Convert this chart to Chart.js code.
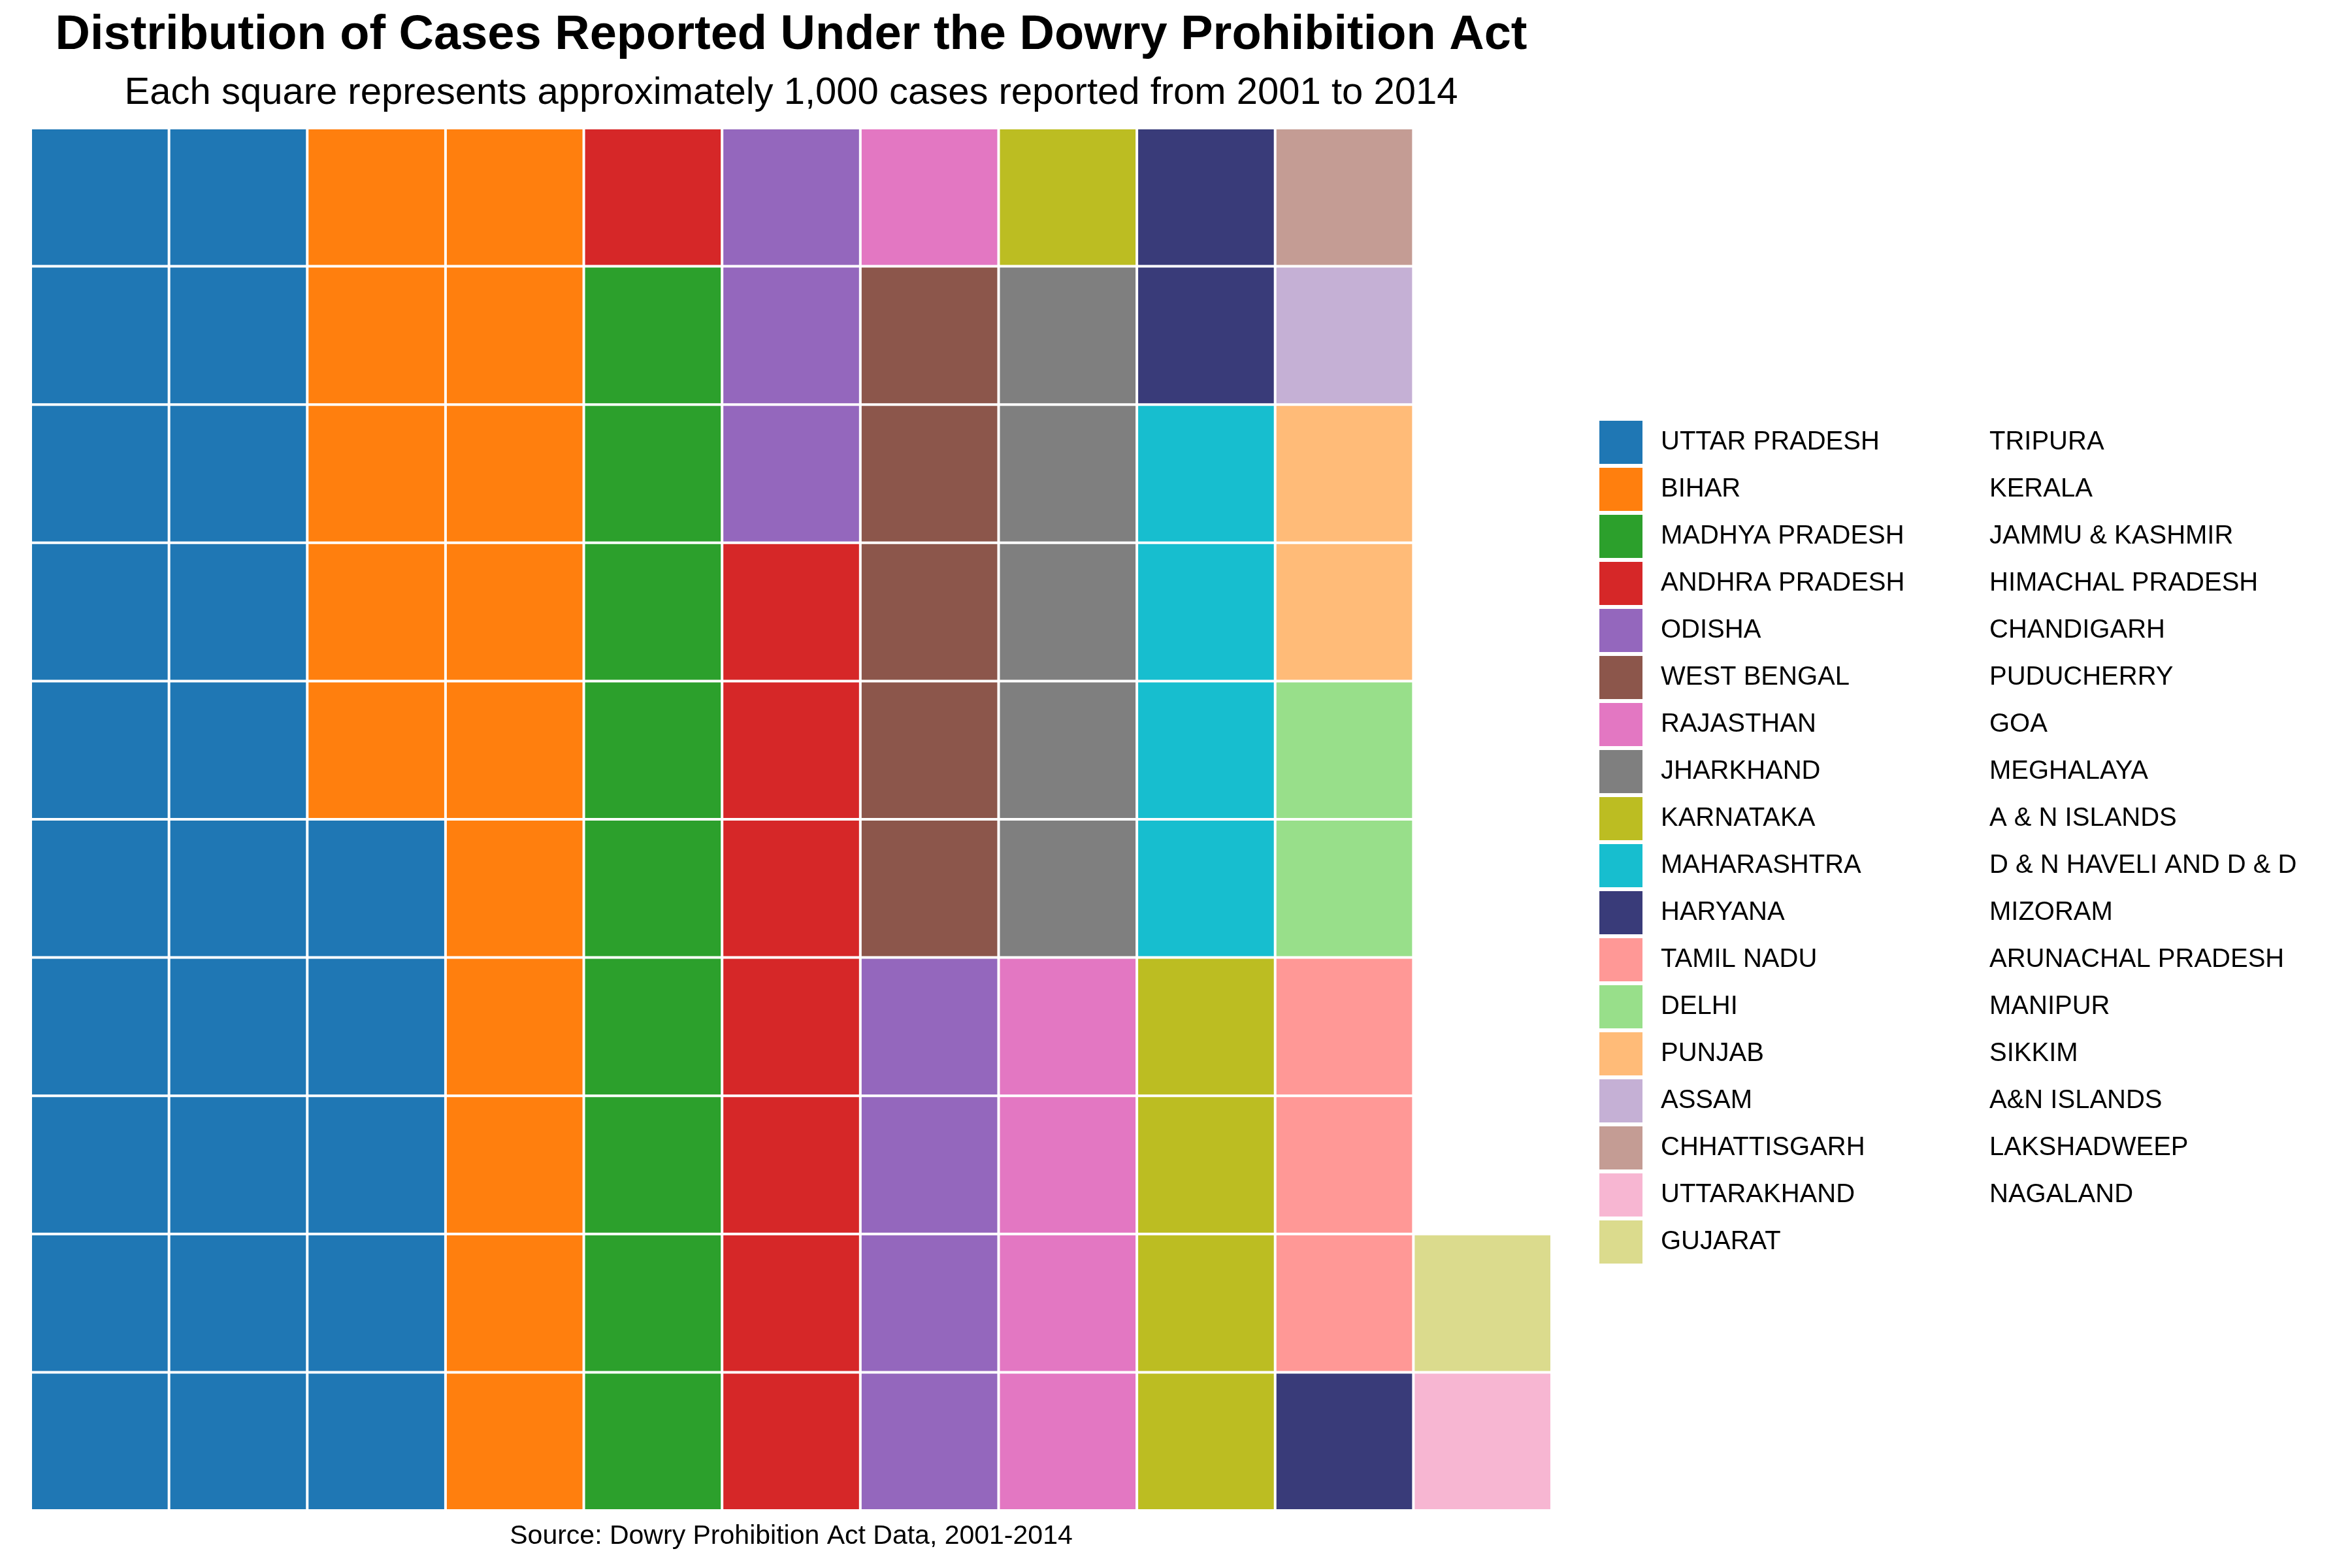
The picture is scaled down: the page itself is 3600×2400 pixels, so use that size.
<!DOCTYPE html>
<html>
<head>
<meta charset="utf-8">
<script src="https://cdn.jsdelivr.net/npm/chart.js@4.4.1/dist/chart.umd.min.js"></script>
<style>
  html, body { margin: 0; padding: 0; background: #fff; }
  #wrap { width: 3600px; height: 2400px; position: relative; }
</style>
</head>
<body>
<div id="wrap"><canvas id="waffle"></canvas></div>
<script>
// states that get at least one square, in fill order
const states = [
  'UTTAR PRADESH', 'BIHAR', 'MADHYA PRADESH', 'ANDHRA PRADESH', 'ODISHA', 'WEST BENGAL',
  'RAJASTHAN', 'JHARKHAND', 'KARNATAKA', 'MAHARASHTRA', 'HARYANA', 'TAMIL NADU',
  'DELHI', 'PUNJAB', 'ASSAM', 'CHHATTISGARH', 'UTTARAKHAND', 'GUJARAT'
]
// squares (~1,000 cases each) per state
const squares = [25, 15, 9, 8, 7, 5, 5, 5, 5, 4, 3, 3, 2, 2, 1, 1, 1, 1]
const colors = [
  '#1f77b4', '#ff7f0e', '#2ca02c', '#d62728', '#9467bd', '#8c564b',
  '#e377c2', '#7f7f7f', '#bcbd22', '#17becf', '#393b79', '#ff9896',
  '#98df8a', '#ffbb78', '#c5b0d5', '#c49c94', '#f7b6d2', '#dbdb8d'
]
// states listed in the legend with no square
const otherStates = [
  'TRIPURA', 'KERALA', 'JAMMU & KASHMIR', 'HIMACHAL PRADESH', 'CHANDIGARH', 'PUDUCHERRY',
  'GOA', 'MEGHALAYA', 'A & N ISLANDS', 'D & N HAVELI AND D & D', 'MIZORAM',
  'ARUNACHAL PRADESH', 'MANIPUR', 'SIKKIM', 'A&N ISLANDS', 'LAKSHADWEEP', 'NAGALAND'
]
const columns = 11
const rows = 10
const titleText = 'Distribution of Cases Reported Under the Dowry Prohibition Act'
const subtitleText = 'Each square represents approximately 1,000 cases reported from 2001 to 2014'
const captionText = 'Source: Dowry Prohibition Act Data, 2001-2014'

const FONT = "'Liberation Sans', Arial, Helvetica, sans-serif"
Chart.defaults.font.family = FONT
Chart.defaults.color = '#000'

// fill the grid column by column, bottom to top
let pos = 0
const datasets = states.map((name, i) => {
  const perColumn = new Array(columns).fill(0)
  for (let k = 0; k < squares[i]; k++) {
    perColumn[Math.floor(pos / rows)]++
    pos++
  }
  return {
    label: name,
    data: perColumn,
    backgroundColor: colors[i],
    borderWidth: 0,
    barPercentage: 1,
    categoryPercentage: 1
  }
})

// white lines between the tiles
const tileLines = {
  id: 'tileLines',
  afterDatasetsDraw: chart => {
    const ctx = chart.ctx
    const x = chart.scales.x
    const y = chart.scales.y
    const half = (x.getPixelForValue(1) - x.getPixelForValue(0)) / 2
    const left = x.getPixelForValue(0) - half
    const right = x.getPixelForValue(columns - 1) + half
    ctx.save()
    ctx.strokeStyle = '#ffffff'
    ctx.lineWidth = 4
    ctx.beginPath()
    for (let c = 0; c <= columns; c++) {
      const px = x.getPixelForValue(c) - half
      ctx.moveTo(px, y.getPixelForValue(rows))
      ctx.lineTo(px, y.getPixelForValue(0))
    }
    for (let r = 0; r <= rows; r++) {
      const py = y.getPixelForValue(r)
      ctx.moveTo(left, py)
      ctx.lineTo(right, py)
    }
    ctx.stroke()
    ctx.restore()
  }
}

// two column legend plus source caption
const sideLegend = {
  id: 'sideLegend',
  afterDraw: chart => {
    const ctx = chart.ctx
    const area = chart.chartArea
    const box = 66
    const step = 72
    const top = area.top + 448
    const boxX = area.right + 73
    const textX = area.right + 167
    const text2X = area.right + 670
    ctx.save()
    ctx.font = `40px ${FONT}`
    ctx.textBaseline = 'middle'
    ctx.textAlign = 'left'
    states.forEach((name, i) => {
      const yTop = top + i * step
      ctx.fillStyle = colors[i]
      ctx.fillRect(boxX, yTop, box, box)
      ctx.fillStyle = '#000'
      ctx.fillText(name, textX, yTop + box / 2)
    })
    otherStates.forEach((name, i) => {
      ctx.fillStyle = '#000'
      ctx.fillText(name, text2X, top + i * step + box / 2)
    })
    ctx.font = `41px ${FONT}`
    ctx.textAlign = 'center'
    ctx.fillText(captionText, (area.left + area.right) / 2, area.bottom + 40)
    ctx.restore()
  }
}

new Chart(document.getElementById('waffle').getContext('2d'), {
  type: 'bar',
  data: {
    labels: Array.from({ length: columns }, (_, i) => String(i + 1)),
    datasets: datasets
  },
  options: {
    responsive: true,
    maintainAspectRatio: false,
    animation: false,
    layout: { padding: { left: 47, right: 1225, top: 0, bottom: 88 } },
    scales: {
      x: { stacked: true, display: false },
      y: { stacked: true, display: false, min: 0, max: rows }
    },
    plugins: {
      legend: { display: false },
      tooltip: { enabled: false },
      title: {
        display: true,
        text: titleText,
        color: '#000',
        font: { size: 74, weight: 'bold', lineHeight: 1.2 },
        padding: { top: 10, bottom: 0 }
      },
      subtitle: {
        display: true,
        text: subtitleText,
        color: '#000',
        font: { size: 58, weight: 'normal', lineHeight: 1.2 },
        padding: { top: 9, bottom: 18.6 }
      }
    }
  },
  plugins: [tileLines, sideLegend]
})
</script>
</body>
</html>
